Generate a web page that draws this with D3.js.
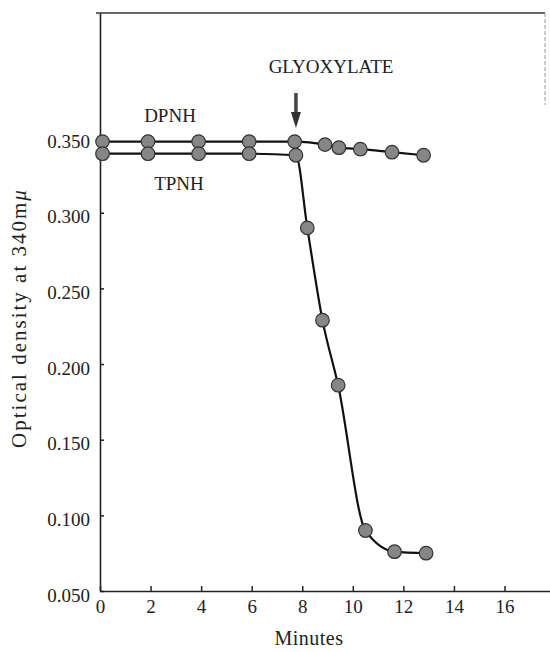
<!DOCTYPE html>
<html>
<head>
<meta charset="utf-8">
<script src="https://cdn.jsdelivr.net/npm/d3@7"></script>
<style>
  body { margin: 0; background: #fff; }
  svg text { font-family: "Liberation Serif", "DejaVu Serif", serif; fill: #222; }
</style>
</head>
<body>
<div id="chart"></div>
<script>
// readings taken off the figure
const dpnhMinutes = [0.1, 1.9, 3.9, 5.9, 7.7, 8.9, 9.45, 10.3, 11.55, 12.8];
const dpnhValues = [0.347, 0.347, 0.347, 0.347, 0.347, 0.345, 0.343, 0.342, 0.340, 0.338];

const tpnhMinutes = [0.1, 1.9, 3.9, 5.9, 7.75, 8.2, 8.8, 9.42, 10.5, 11.65, 12.9];
const tpnhValues = [0.339, 0.339, 0.339, 0.339, 0.338, 0.290, 0.229, 0.186, 0.090, 0.076, 0.075];

const xTicks = [0, 2, 4, 6, 8, 10, 12, 14, 16];
const yTicks = [0.050, 0.100, 0.150, 0.200, 0.250, 0.300, 0.350];

const W = 550, H = 652;
const margin = { top: 13, right: 0, bottom: 61, left: 100 };

const svg = d3.select("#chart").append("svg")
    .attr("width", W)
    .attr("height", H);

// scales
const x = d3.scaleLinear()
    .domain([0, 17.8])
    .range([margin.left, W - margin.right]);

const y = d3.scaleLinear()
    .domain([0.05, 0.432])
    .range([H - margin.bottom, margin.top]);

// frame: top line and the faint piece of right edge
svg.append("line")
    .attr("x1", margin.left - 4).attr("x2", 545)
    .attr("y1", margin.top).attr("y2", margin.top)
    .attr("stroke", "#333").attr("stroke-width", 1.3);
svg.append("line")
    .attr("x1", 545).attr("x2", 545)
    .attr("y1", margin.top).attr("y2", 105)
    .attr("stroke", "#999").attr("stroke-width", 1)
    .attr("stroke-dasharray", "4,2");

// axes
const xAxis = svg.append("g")
    .attr("transform", `translate(0,${H - margin.bottom})`)
    .call(d3.axisBottom(x)
        .tickValues(xTicks)
        .tickSizeInner(-5)
        .tickSizeOuter(0)
        .tickPadding(9)
        .tickFormat(d3.format("d")));

const yAxis = svg.append("g")
    .attr("transform", `translate(${margin.left},0)`)
    .call(d3.axisLeft(y)
        .tickValues(yTicks)
        .tickSizeInner(-4)
        .tickSizeOuter(0)
        .tickPadding(10)
        .tickFormat(d3.format(".3f")));

[xAxis, yAxis].forEach(a => {
    a.select(".domain").attr("stroke", "#222").attr("stroke-width", 1.6);
    a.selectAll(".tick line").attr("stroke", "#222").attr("stroke-width", 1.5);
    a.selectAll(".tick text")
        .attr("fill", "#222")
        .style("font-size", "19px");
});
yAxis.selectAll(".tick text").attr("dy", "10px");

// axis titles
svg.append("text")
    .attr("x", 309)
    .attr("y", 645)
    .attr("text-anchor", "middle")
    .style("font-size", "20px")
    .style("letter-spacing", "0.5px")
    .text("Minutes");

svg.append("text")
    .attr("transform", "translate(26,318) rotate(-90)")
    .attr("text-anchor", "middle")
    .style("font-size", "21px")
    .style("letter-spacing", "2px")
    .html('Optical density at 340m<tspan font-style="italic">μ</tspan>');

// lines
const dpnh = dpnhMinutes.map((m, i) => ({ m, v: dpnhValues[i] }));
const tpnh = tpnhMinutes.map((m, i) => ({ m, v: tpnhValues[i] }));

const line = d3.line()
    .x(d => x(d.m))
    .y(d => y(d.v))
    .curve(d3.curveMonotoneX);

[dpnh, tpnh].forEach(series => {
    svg.append("path")
        .datum(series)
        .attr("d", line)
        .attr("fill", "none")
        .attr("stroke", "#111")
        .attr("stroke-width", 2.2);
});

[dpnh, tpnh].forEach(series => {
    svg.append("g")
        .selectAll("circle")
        .data(series)
        .enter()
        .append("circle")
        .attr("cx", d => x(d.m))
        .attr("cy", d => y(d.v))
        .attr("r", 6.8)
        .attr("fill", "#868686")
        .attr("stroke", "#333")
        .attr("stroke-width", 1.2);
});

// series labels
svg.append("text")
    .attr("x", 170).attr("y", 122)
    .attr("text-anchor", "middle")
    .style("font-size", "19px")
    .text("DPNH");

svg.append("text")
    .attr("x", 179).attr("y", 190)
    .attr("text-anchor", "middle")
    .style("font-size", "19px")
    .text("TPNH");

// glyoxylate addition arrow
const ax = x(7.75);
svg.append("text")
    .attr("x", 331).attr("y", 73)
    .attr("text-anchor", "middle")
    .style("font-size", "19px")
    .text("GLYOXYLATE");

svg.append("line")
    .attr("x1", ax).attr("x2", ax)
    .attr("y1", 93).attr("y2", 114)
    .attr("stroke", "#444").attr("stroke-width", 3.5);
svg.append("path")
    .attr("d", `M${ax - 5},112 L${ax + 5},112 L${ax},128 Z`)
    .attr("fill", "#333");
</script>
</body>
</html>
